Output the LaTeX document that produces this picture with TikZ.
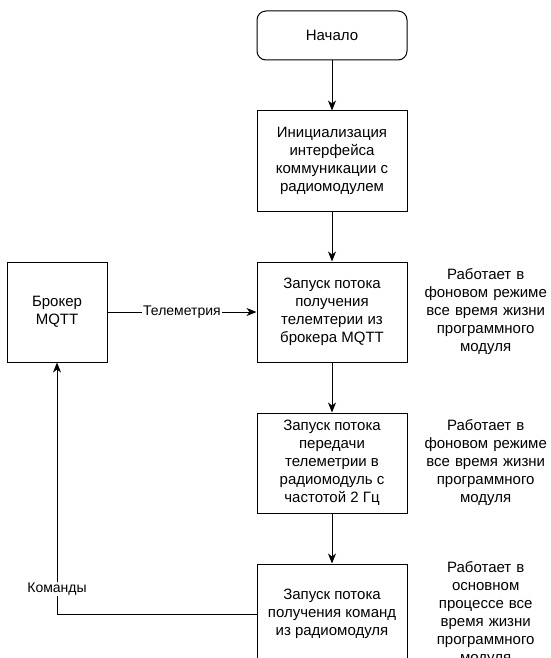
\documentclass[tikz,border=0pt]{standalone}
\usepackage{fontspec}
\setmainfont{Liberation Sans}
\usetikzlibrary{arrows.meta,positioning}

\begin{document}
\begin{tikzpicture}[
  x=1pt, y=-1pt,
  node distance=50pt,
  box/.style={draw, line width=1pt, minimum width=150pt, minimum height=100pt, align=center, inner sep=4pt, font=\fontsize{15}{18}\selectfont},
  note/.style={align=center, text width=130pt, inner sep=0pt, font=\fontsize{15}{18}\selectfont},
  lbl/.style={fill=white, inner sep=1pt, font=\fontsize{14}{16}\selectfont},
  arr/.style={-{Stealth[length=10pt,width=8pt,inset=3pt]}, line width=1pt}
]
\useasboundingbox (0,0) rectangle (551,658);
\node[box, rounded corners=9pt, minimum height=49pt] (start) at (332,35.5) {Начало};
\node[box, below=of start] (init) {Инициализация\\интерфейса\\коммуникации с\\радиомодулем};
\node[box, below=of init] (telrx) {Запуск потока\\получения\\телемтерии из\\брокера MQTT};
\node[box, below=of telrx] (teltx) {Запуск потока\\передачи\\телеметрии в\\радиомодуль с\\частотой 2 Гц};
\node[box, below=of teltx] (cmdrx) {Запуск потока\\получения команд\\из радиомодуля};
\node[box, minimum width=100pt, left=149pt of telrx] (broker) {Брокер\\MQTT};
% notes on the right
\node[note, right=13pt of telrx] (notetelrx) {Работает в\\фоновом режиме\\все время жизни\\программного\\модуля};
\node[note, right=13pt of teltx] (noteteltx) {Работает в\\фоновом режиме\\все время жизни\\программного\\модуля};
\node[note, right=13pt of cmdrx] (notecmdrx) {Работает в\\основном\\процессе все\\время жизни\\программного\\модуля};
\draw[arr] (start) -- (init);
\draw[arr] (init) -- (telrx);
\draw[arr] (telrx) -- (teltx);
\draw[arr] (teltx) -- (cmdrx);
\draw[arr] (broker) -- node[lbl] {Телеметрия} (telrx);
\draw[arr] (cmdrx.west) -| node[lbl, pos=0.55] {Команды} (broker.south);
\end{tikzpicture}
\end{document}
